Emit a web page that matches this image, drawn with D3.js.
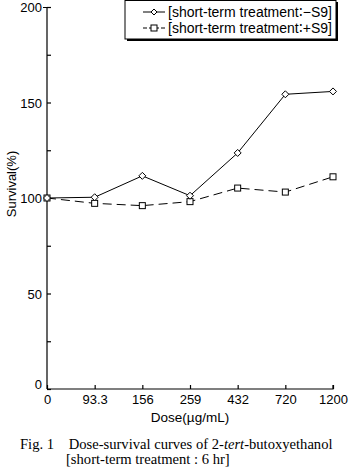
<!DOCTYPE html>
<html>
<head>
<meta charset="utf-8">
<script src="https://cdn.jsdelivr.net/npm/d3@7"></script>
<style>
body{margin:0;background:#fff;}
svg{display:block;font-family:"Liberation Sans",Arial,sans-serif;}
</style>
</head>
<body>
<script>
const doses=["0","93.3","156","259","432","720","1200"];
const minusS9=[100,100.4,111.6,101.2,123.6,154.3,155.8];
const plusS9=[100,97.2,96.0,98.1,105.2,103.1,111.1];
const yTicks=[0,50,100,150,200];
const yMinor=[25,75,125,175];

const width=351,height=472;
const svg=d3.select("body").append("svg").attr("width",width).attr("height",height);

const x=d3.scalePoint().domain(doses).range([47,333]);
const y=d3.scaleLinear().domain([0,200]).range([389,7]);

const g=svg.append("g");

// axes
const yAxis=g.append("g").attr("transform","translate(47,0)")
    .call(d3.axisLeft(y).tickValues(yTicks).tickSize(-4).tickPadding(5));
yAxis.select(".domain").attr("d","M-4,7.5H0V389");
g.append("g").attr("transform","translate(47,0)")
    .call(d3.axisLeft(y).tickValues(yMinor).tickSize(-4).tickFormat(""))
    .select(".domain").remove();
const xAxis=g.append("g").attr("transform","translate(0,389)")
    .call(d3.axisBottom(x).tickSize(-4).tickPadding(6));
xAxis.select(".domain").attr("d","M47,0H333V-4");
g.selectAll(".tick text").attr("font-size",13).attr("font-family","Liberation Sans,Arial,sans-serif").attr("fill","#000");
g.selectAll(".domain,.tick line").attr("stroke","#000").attr("stroke-width",1.2);
yAxis.selectAll(".tick text").attr("dy","0.35em");
yAxis.selectAll(".tick").filter(d=>d===0).select("text").attr("dy","-0.05em");

// lines
const line=d3.line().x((d,i)=>x(doses[i])).y(d=>y(d));
g.append("path").datum(plusS9).attr("d",line).attr("fill","none")
    .attr("stroke","#000").attr("stroke-width",1).attr("stroke-dasharray","9,5");
g.append("path").datum(minusS9).attr("d",line).attr("fill","none")
    .attr("stroke","#000").attr("stroke-width",1);

// markers
g.selectAll(".sq").data(plusS9).enter().append("rect")
    .attr("x",(d,i)=>x(doses[i])-3).attr("y",d=>y(d)-3)
    .attr("width",6).attr("height",6).attr("fill","#fff").attr("stroke","#000");
g.selectAll(".dia").data(minusS9).enter().append("path")
    .attr("d","M0,-3.5L3.5,0L0,3.5L-3.5,0Z")
    .attr("transform",(d,i)=>`translate(${x(doses[i])},${y(d)})`)
    .attr("fill","#fff").attr("stroke","#000");

// axis titles
svg.append("text").attr("transform","translate(16,184) rotate(-90)")
    .attr("text-anchor","middle").attr("font-size",13).text("Survival(%)");
svg.append("text").attr("x",190).attr("y",422)
    .attr("text-anchor","middle").attr("font-size",13.5).text("Dose(\u00b5g/mL)");

// legend
const lg=svg.append("g");
lg.append("rect").attr("x",127).attr("y",2).attr("width",211).attr("height",39).attr("fill","#000");
lg.append("rect").attr("x",125).attr("y",0.5).attr("width",211).attr("height",38.5)
    .attr("fill","#fff").attr("stroke","#000");
const legendItems=[{label:"[short-term treatment\u2236\u2212S9]",type:"dia",dash:null},
                   {label:"[short-term treatment\u2236+S9]",type:"sq",dash:"4,2"}];
legendItems.forEach((it,i)=>{
    const yy=12+i*16;
    lg.append("line").attr("x1",143).attr("x2",165).attr("y1",yy).attr("y2",yy)
        .attr("stroke","#000").attr("stroke-dasharray",it.dash);
    if(it.type==="dia"){
        lg.append("path").attr("d","M0,-3L3,0L0,3L-3,0Z")
            .attr("transform",`translate(154,${yy})`).attr("fill","#fff").attr("stroke","#000");
    }else{
        lg.append("rect").attr("x",151).attr("y",yy-3).attr("width",6).attr("height",6)
            .attr("fill","#fff").attr("stroke","#000");
    }
    lg.append("text").attr("x",168).attr("y",yy+5).attr("font-size",14).text(it.label);
});

// caption
const cap=svg.append("g").attr("font-family","Liberation Serif,Times New Roman,serif").attr("font-size",14.6);
const t1=cap.append("text").attr("x",20).attr("y",449);
t1.append("tspan").text("Fig. 1\u2003Dose-survival curves of 2-");
t1.append("tspan").attr("font-style","italic").text("tert");
t1.append("tspan").text("-butoxyethanol");
cap.append("text").attr("x",66).attr("y",464).text("[short-term treatment : 6 hr]");
</script>
</body>
</html>
